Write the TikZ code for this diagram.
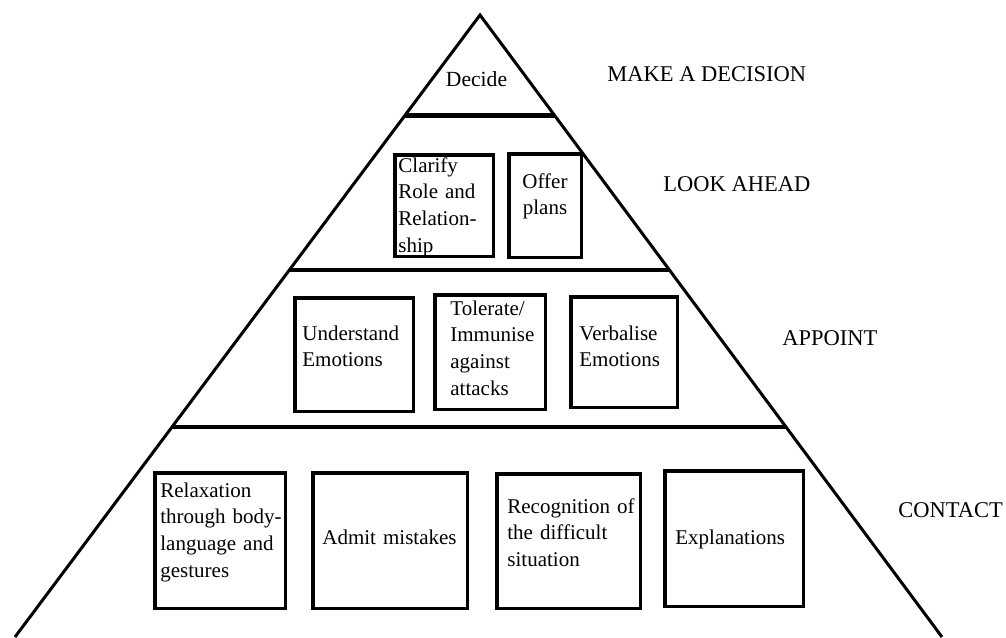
\documentclass[tikz,border=0pt]{standalone}
\usepackage{fontspec}
\setmainfont{Liberation Serif}
\usetikzlibrary{calc}

\begin{document}
\begin{tikzpicture}[x=0.5pt, y=-0.5pt,
    box/.style={draw, rectangle, line width=1.75pt, inner sep=0pt},
    txt/.style={inner sep=0pt, anchor=base west, text width=75pt, align=left,
      font=\fontsize{10.5pt}{13.4pt}\selectfont},
    stage/.style={inner sep=0pt, anchor=base west, font=\fontsize{11.25pt}{13.4pt}\selectfont},
    level/.style={line width=2pt}]
  \useasboundingbox (0,0) rectangle (1006,637);
  \clip (0,0) rectangle (1006,637);

  % pyramid
  \coordinate (apex) at (480,15);
  \coordinate (bl) at (15,637);
  \coordinate (br) at (942,637);
  \draw[line width=1.5pt, line join=miter] (bl) -- (apex) -- (br);
  \draw[level, line width=2.2pt] ($(apex)!0.1616!(bl)$) -- ($(apex)!0.1616!(br)$);
  \draw[level] ($(apex)!0.41!(bl)$) -- ($(apex)!0.41!(br)$);
  \draw[level] ($(apex)!0.6624!(bl)$) -- ($(apex)!0.6624!(br)$);

  % top
  \node[stage, anchor=base, font=\fontsize{10.8pt}{13.4pt}\selectfont] (decide) at (476.5,86) {Decide};

  % second level
  \node[box, minimum width=49.25pt, minimum height=50.75pt] (clarify) at (444,205.5) {};
  \node[txt] (clarifytext) at (398,172) {Clarify\\Role and\\Relation-\\ship};
  \node[box, minimum width=36.25pt, minimum height=51.75pt] (offer) at (545,205.5) {};
  \node[txt, anchor=base, align=center] (offertext) at (545,188) {Offer\\plans};

  % third level
  \node[box, minimum width=59.25pt, minimum height=56.75pt] (understand) at (354,354.5) {};
  \node[txt] (understandtext) at (302,340) {Understand\\Emotions};
  \node[box, minimum width=55.25pt, minimum height=57.25pt] (tolerate) at (490,352) {};
  \node[txt] (toleratetext) at (450,315) {Tolerate/\\Immunise\\against\\attacks};
  \node[box, minimum width=53.25pt, minimum height=55.25pt] (verbalise) at (624,352) {};
  \node[txt] (verbalisetext) at (579,340) {Verbalise\\Emotions};

  % bottom level
  \node[box, minimum width=65.25pt, minimum height=67.75pt] (relax) at (220,540.5) {};
  \node[txt] (relaxtext) at (160,497) {Relaxation\\through body-\\language and\\gestures};
  \node[box, minimum width=77.25pt, minimum height=67.75pt] (admit) at (390,540.5) {};
  \node[txt] (admittext) at (322,544) {Admit mistakes};
  \node[box, minimum width=71.75pt, minimum height=67.25pt] (recog) at (568.5,541) {};
  \node[txt] (recogtext) at (507,513) {Recognition of\\the difficult\\situation};
  \node[box, minimum width=69.25pt, minimum height=67.75pt] (expl) at (734,538.5) {};
  \node[txt] (expltext) at (675,544) {Explanations};

  % stage names
  \node[stage] (decision) at (607,81) {MAKE A DECISION};
  \node[stage] (ahead) at (663,191) {LOOK AHEAD};
  \node[stage] (appoint) at (782,345) {APPOINT};
  \node[stage] (contact) at (898,517) {CONTACT};
\end{tikzpicture}
\end{document}
